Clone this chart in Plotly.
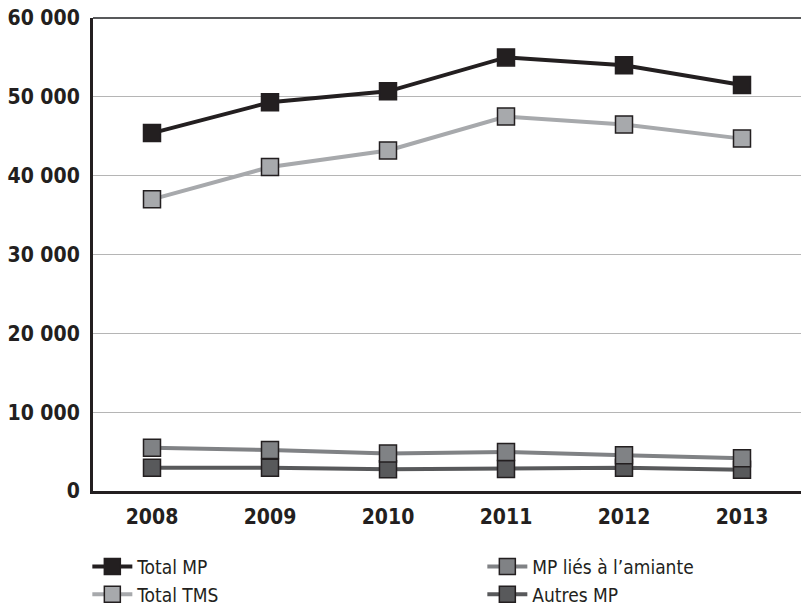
import plotly.graph_objects as go

years = ["2008", "2009", "2010", "2011", "2012", "2013"]
total_mp = [45400, 49300, 50700, 55000, 54000, 51500]
total_tms = [37000, 41100, 43200, 47500, 46500, 44700]
mp_amiante = [5500, 5200, 4750, 4950, 4550, 4150]
autres_mp = [2950, 2950, 2750, 2800, 2950, 2700]

y_ticks = [0, 10000, 20000, 30000, 40000, 50000, 60000]
y_labels = ["0", "10 000", "20 000", "30 000", "40 000", "50 000", "60 000"]

FONT = "DejaVu Sans Condensed, Liberation Sans Narrow, sans-serif"

fig = go.Figure()

# (values, name, line colour, marker fill, legend rank)
series = [
    (autres_mp, "Autres MP", "#58595b", "#58595b", 4),
    (mp_amiante, "MP liés à l’amiante", "#808285", "#808285", 2),
    (total_tms, "Total TMS", "#a7a9ac", "#a7a9ac", 3),
    (total_mp, "Total MP", "#231f20", "#231f20", 1),
]

for vals, name, lc, mc, rank in series:
    fig.add_trace(go.Scatter(
        x=years,
        y=vals,
        mode="lines+markers",
        name=name,
        legendrank=rank,
        line=dict(color=lc, width=4),
        marker=dict(symbol="square", size=17, color=mc,
                    line=dict(color="#231f20", width=1.5)),
    ))

fig.update_layout(
    width=801,
    height=606,
    margin=dict(l=93, r=0, t=18, b=115, autoexpand=False),
    plot_bgcolor="white",
    paper_bgcolor="white",
    font=dict(family=FONT, color="#231f20"),
    showlegend=True,
    legend=dict(
        orientation="h",
        x=-0.008,
        y=-0.12,
        xanchor="left",
        yanchor="top",
        entrywidth=340,
        entrywidthmode="pixels",
        font=dict(family=FONT, size=19, color="#231f20"),
        traceorder="normal",
        itemwidth=40,
    ),
)

fig.update_xaxes(
    type="category",
    range=[-0.5, 5.5],
    automargin=False,
    showline=True,
    linecolor="#231f20",
    linewidth=3,
    showgrid=False,
    ticks="",
    tickfont=dict(family=FONT, size=21, color="#231f20", weight="bold"),
    ticklabelstandoff=5,
)

fig.update_yaxes(
    range=[0, 60000],
    automargin=False,
    tickvals=y_ticks,
    ticktext=y_labels,
    ticklabeloverflow="allow",
    showline=True,
    linecolor="#231f20",
    linewidth=3,
    showgrid=True,
    gridcolor="#b5b5b5",
    gridwidth=1,
    zeroline=False,
    ticks="",
    tickfont=dict(family=FONT, size=21, color="#231f20", weight="bold"),
    ticklabelstandoff=6,
)

# darker frame line along the top of the plot area
fig.add_shape(type="line", xref="paper", yref="paper", x0=0, x1=1, y0=1, y1=1,
              line=dict(color="#58595b", width=2))

# drop the default 8px page margin so the figure fills the window
fig.write_html("out.html", config={"displayModeBar": False},
               post_script="document.body.style.margin='0';")
